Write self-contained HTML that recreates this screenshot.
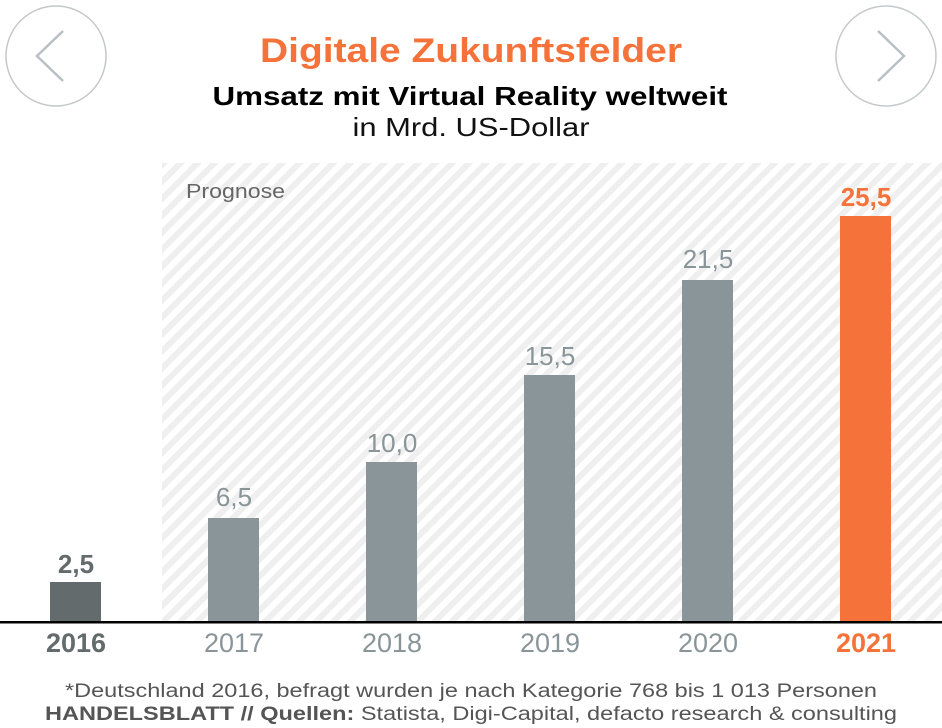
<!DOCTYPE html>
<html><head><meta charset="utf-8"><style>
html,body{margin:0;padding:0;background:#fff;width:942px;height:728px;overflow:hidden}
svg{display:block;font-family:"Liberation Sans",sans-serif}
</style></head><body>
<svg width="942" height="728" viewBox="0 0 942 728">
<defs>
<pattern id="h" patternUnits="userSpaceOnUse" width="12" height="12" patternTransform="rotate(45)">
<rect width="12" height="12" fill="#fff"/><rect width="6" height="12" fill="#efefef"/>
</pattern>
</defs>
<rect x="162" y="163" width="780" height="459" fill="url(#h)"/>
<circle cx="56" cy="56" r="50" fill="none" stroke="#c3c9cb" stroke-width="1.5"/>
<polyline points="63,31 37,56 63,81" fill="none" stroke="#b9c0c3" stroke-width="2.5"/>
<circle cx="886" cy="56" r="50" fill="none" stroke="#c3c9cb" stroke-width="1.5"/>
<polyline points="878,31 904,56 878,81" fill="none" stroke="#b9c0c3" stroke-width="2.5"/>
<text x="471" y="62" text-anchor="middle" font-size="34" font-weight="bold" fill="#f5733a" textLength="422" lengthAdjust="spacingAndGlyphs">Digitale Zukunftsfelder</text>
<text x="470" y="105" text-anchor="middle" font-size="26" font-weight="bold" fill="#000" textLength="515" lengthAdjust="spacingAndGlyphs">Umsatz mit Virtual Reality weltweit</text>
<text x="471" y="136" text-anchor="middle" font-size="26" fill="#111" textLength="237" lengthAdjust="spacingAndGlyphs">in Mrd. US-Dollar</text>
<text x="186" y="198" font-size="20" fill="#666" textLength="99" lengthAdjust="spacingAndGlyphs">Prognose</text>
<rect x="50" y="582" width="51" height="40" fill="#636b6c"/>
<rect x="208" y="518" width="51" height="104" fill="#8a9599"/>
<rect x="366" y="462" width="51" height="160" fill="#8a9599"/>
<rect x="524" y="375" width="51" height="247" fill="#8a9599"/>
<rect x="682" y="280" width="51" height="342" fill="#8a9599"/>
<rect x="840" y="216" width="51" height="406" fill="#f5733a"/>
<rect x="0" y="621" width="942" height="2.5" fill="#000"/>
<g font-size="26" text-anchor="middle" fill="#8a9599">
<text x="76" y="573" font-weight="bold" fill="#636b6c">2,5</text>
<text x="234" y="506">6,5</text>
<text x="392" y="452">10,0</text>
<text x="550" y="365">15,5</text>
<text x="708" y="268">21,5</text>
<text x="866" y="206" font-weight="bold" fill="#f5733a">25,5</text>
</g>
<g font-size="27" text-anchor="middle" fill="#8a9599">
<text x="76" y="652" font-weight="bold" fill="#636b6c">2016</text>
<text x="234" y="652">2017</text>
<text x="392" y="652">2018</text>
<text x="550" y="652">2019</text>
<text x="708" y="652">2020</text>
<text x="866" y="652" font-weight="bold" fill="#f5733a">2021</text>
</g>
<text x="471" y="697" text-anchor="middle" font-size="19" fill="#555" textLength="812" lengthAdjust="spacingAndGlyphs">*Deutschland 2016, befragt wurden je nach Kategorie 768 bis 1 013 Personen</text>
<text x="471" y="720" text-anchor="middle" font-size="19" fill="#555" textLength="852" lengthAdjust="spacingAndGlyphs"><tspan font-weight="bold">HANDELSBLATT // Quellen:</tspan> Statista, Digi-Capital, defacto research &amp; consulting</text>
</svg>
</body></html>
